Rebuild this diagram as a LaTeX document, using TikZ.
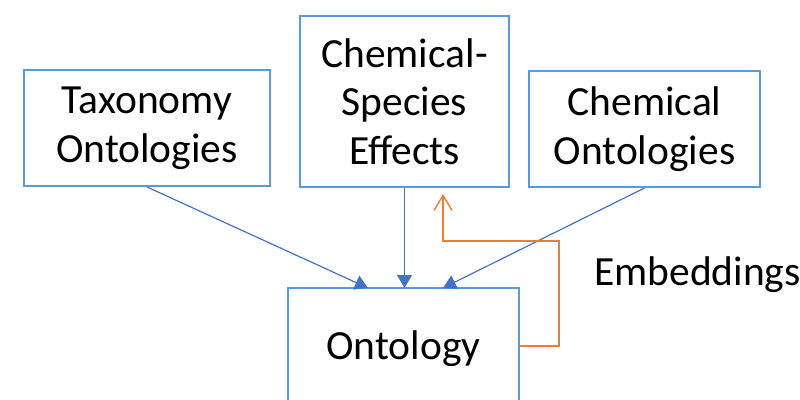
\documentclass[tikz,border=0pt]{standalone}
\usepackage{fontspec}
\setmainfont{Carlito}
\usetikzlibrary{arrows.meta}
\definecolor{boxblue}{HTML}{5B9BD5}
\definecolor{linkblue}{HTML}{4472C4}
\definecolor{emborange}{HTML}{ED7D31}
\begin{document}
\begin{tikzpicture}[x=1pt,y=-1pt,
  box/.style={draw=boxblue, line width=2pt, fill=white, inner sep=0pt,
    align=center, font=\fontsize{41.5}{48.5}\selectfont, text=black},
  link/.style={draw=linkblue, line width=1.2pt,
    -{Triangle[length=13pt,width=15pt]}},
  emb/.style={draw=emborange, line width=1.6pt,
    -{Straight Barb[length=15pt,width=18pt,line width=1.4pt]}},
  label/.style={font=\fontsize{41.5}{48.5}\selectfont, text=black, inner sep=0pt}]
  \useasboundingbox (0,0) rectangle (800,399);
  \clip (0,0) rectangle (800,399);

  % source boxes
  \node[box, minimum width=246pt, minimum height=116pt] (tax) at (147,128)
    {Taxonomy\\Ontologies};
  \node[box, minimum width=209pt, minimum height=171pt] (csp) at (404.5,101.5)
    {Chemical-\\Species\\Effects};
  \node[box, minimum width=231pt, minimum height=116pt] (chem) at (644.5,129)
    {Chemical\\Ontologies};

  % target box (runs past the lower edge)
  \node[box, minimum width=231pt, minimum height=122pt] (ont) at (403.5,349)
    {Ontology};

  % entry points on the top edge of the target box
  \coordinate (inL) at (368,288);
  \coordinate (inR) at (443,288);

  \draw[link] (tax.south) -- (inL);
  \draw[link] (csp.south) -- (csp.south |- inL);
  \draw[link] (chem.south) -- (inR);

  % embedding feedback loop
  \coordinate (embTip) at (443,194);
  \draw[emb] (ont.east |- 0,346) -- (559,346) -- (559,241) -- (443,241) -- (embTip);

  \node[label, anchor=base west] (embLabel) at (594,285) {Embeddings};
\end{tikzpicture}
\end{document}
